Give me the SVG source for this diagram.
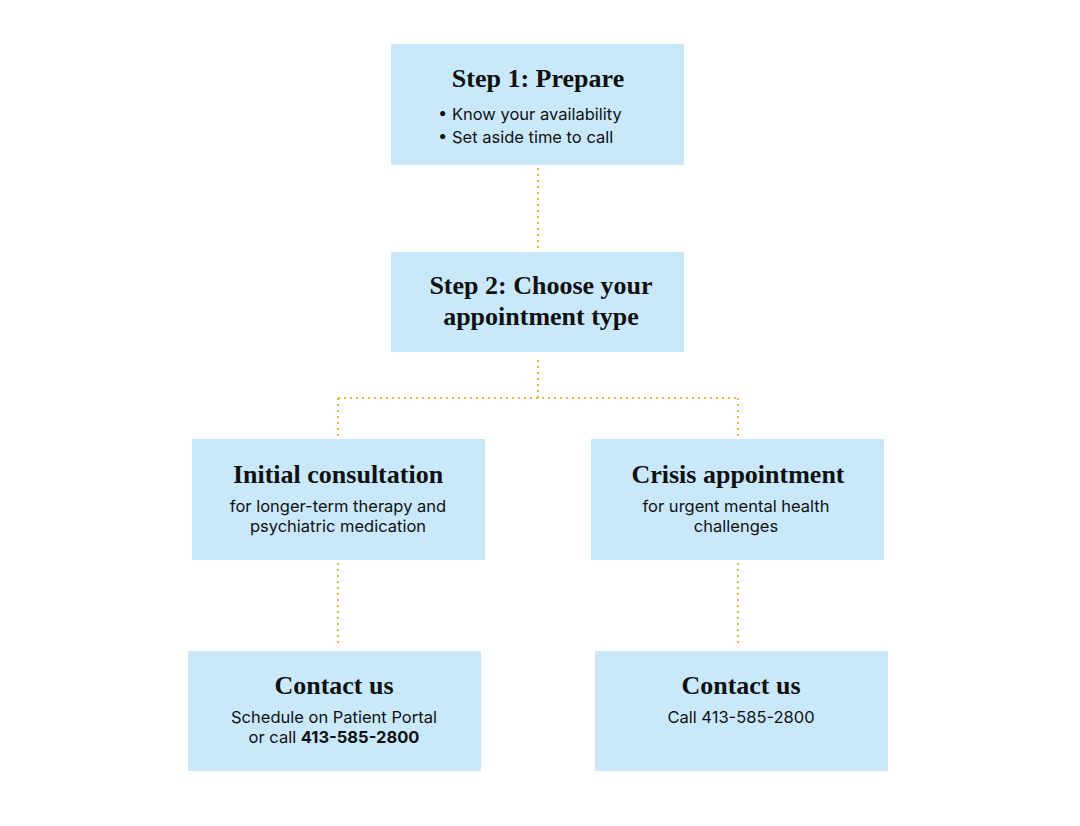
<svg xmlns="http://www.w3.org/2000/svg" width="1080" height="826" viewBox="0 0 1080 826">
<style>
.box{fill:#c9e9fa}
.t{font-family:"Liberation Serif",serif;font-weight:bold;font-size:26px;fill:#111;text-anchor:middle}
.b{font-family:"Inter","Liberation Sans",sans-serif;font-size:16.5px;fill:#111;text-anchor:middle}
.c{stroke:#f2b531;stroke-width:2;stroke-dasharray:2 4;fill:none}
</style>
<rect width="1080" height="826" fill="#fff"/>
<g id="connectors">
<path class="c" d="M538 168V250"/>
<path class="c" d="M538 360V398M338 398H738M338 398V437M738 398V437"/>
<path class="c" d="M338 563V647"/>
<path class="c" d="M738 563V647"/>
</g>
<g id="step1"><rect class="box" x="391" y="44" width="293" height="121"/>
<text class="t" x="538" y="87">Step 1: Prepare</text>
<text class="b" x="438" y="120" style="text-anchor:start">•  Know your availability</text>
<text class="b" x="438" y="143" style="text-anchor:start">•  Set aside time to call</text></g>
<g id="step2"><rect class="box" x="391" y="252" width="293" height="100"/>
<text class="t" x="541" y="294">Step 2: Choose your</text>
<text class="t" x="541" y="325">appointment type</text></g>
<g id="initial"><rect class="box" x="192" y="439" width="293" height="121"/>
<text class="t" x="338" y="483">Initial consultation</text>
<text class="b" x="338" y="512">for longer-term therapy and</text>
<text class="b" x="338" y="532">psychiatric medication</text></g>
<g id="crisis"><rect class="box" x="591" y="439" width="293" height="121"/>
<text class="t" x="738" y="483">Crisis appointment</text>
<text class="b" x="736" y="512">for urgent mental health</text>
<text class="b" x="736" y="532">challenges</text></g>
<g id="contact1"><rect class="box" x="188" y="651" width="293" height="120"/>
<text class="t" x="334" y="694">Contact us</text>
<text class="b" x="334" y="723">Schedule on Patient Portal</text>
<text class="b" x="334" y="743">or call <tspan font-weight="bold">413-585-2800</tspan></text></g>
<g id="contact2"><rect class="box" x="595" y="651" width="293" height="120"/>
<text class="t" x="741" y="694">Contact us</text>
<text class="b" x="741" y="723">Call 413-585-2800</text></g>
</svg>
